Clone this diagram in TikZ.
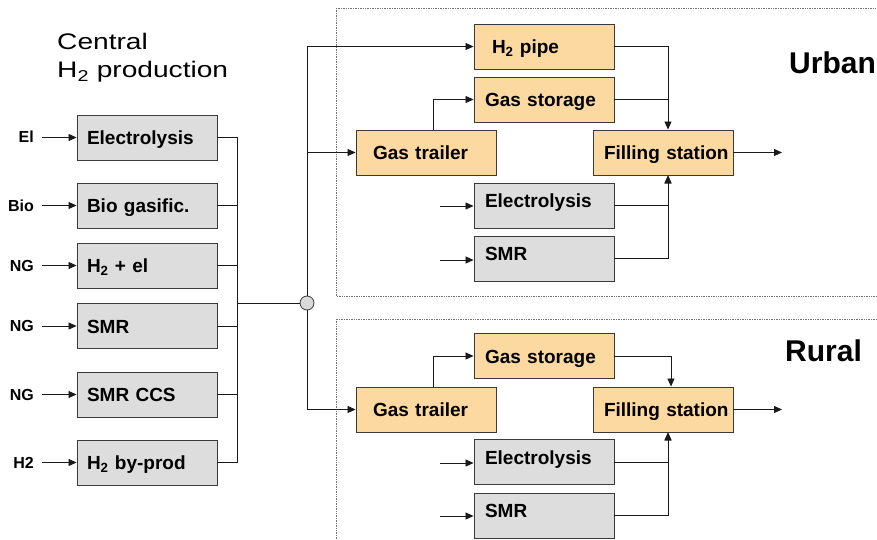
\documentclass[tikz,border=0pt]{standalone}
\usepackage{fontspec}
\setmainfont{Liberation Sans}
\newfontfamily\titlefont[FakeStretch=1.25]{Liberation Sans}
\usetikzlibrary{arrows.meta}
\definecolor{boxorange}{HTML}{FCD9A0}
\definecolor{boxgray}{HTML}{DDDDDD}
\definecolor{boxline}{HTML}{3A3A3A}
\definecolor{conn}{HTML}{1A1A1A}
\begin{document}
\begin{tikzpicture}[x=1pt,y=-1pt,
  base/.style={draw=boxline, line width=0.9pt, minimum width=140, minimum height=45,
    inner sep=0pt, text width=140, align=left, text height=14, text depth=0,
    font=\fontsize{19}{22}\selectfont\bfseries},
  gbox/.style={base, fill=boxgray},
  obox/.style={base, fill=boxorange},
  inlbl/.style={anchor=east, inner xsep=8pt, inner ysep=0pt, text height=11, text depth=0,
    font=\fontsize{16}{18}\selectfont\bfseries},
  region/.style={font=\fontsize{30}{34}\selectfont\bfseries, inner sep=0pt, anchor=base west},
  ttl/.style={font=\titlefont\fontsize{22.5}{28}\selectfont, inner sep=0pt, anchor=base west},
  ln/.style={draw=conn, line width=0.8pt},
  arr/.style={ln, -{Triangle[length=8pt,width=7pt]}},
  frame/.style={draw=black!55, densely dotted, line width=0.7pt},
  hubst/.style={circle, draw=boxline, fill=black!15, line width=0.8pt, minimum size=14, inner sep=0pt}
]
\useasboundingbox (0,0) rectangle (877,540);
\clip (0,0) rectangle (877,540);

% dotted regions
\draw[frame] (336,8) rectangle (900,296);
\draw[frame] (336,319) rectangle (900,560);

% title
\node[ttl] (t1) at (57,50) {Central};
\node[ttl] (t2) at (57,78) {H\textsubscript{2} production};

% region labels
\node[region] (urban) at (789,74) {Urban};
\node[region] (rural) at (785,361) {Rural};

% left column
\node[gbox] (elec) at (147,137.5) {\hspace*{10pt}Electrolysis};
\node[gbox] (bio)  at (147,205.5) {\hspace*{10pt}Bio gasific.};
\node[gbox] (h2el) at (147,265.5) {\hspace*{10pt}H\textsubscript{2} + el};
\node[gbox] (smr)  at (147,326)   {\hspace*{10pt}SMR};
\node[gbox] (ccs)  at (147,394.5) {\hspace*{10pt}SMR CCS};
\node[gbox] (byp)  at (147,462.5) {\hspace*{10pt}H\textsubscript{2} by-prod};

\node[inlbl] (iEl)  at (42,137.5) {El};
\node[inlbl] (iBio) at (42,205.5) {Bio};
\node[inlbl] (iNG1) at (42,265.5) {NG};
\node[inlbl] (iNG2) at (42,326)   {NG};
\node[inlbl] (iNG3) at (42,394.5) {NG};
\node[inlbl] (iH2)  at (42,462.5) {H2};

\draw[arr] (iEl.east) -- (elec.west);
\draw[arr] (iBio.east) -- (bio.west);
\draw[arr] (iNG1.east) -- (h2el.west);
\draw[arr] (iNG2.east) -- (smr.west);
\draw[arr] (iNG3.east) -- (ccs.west);
\draw[arr] (iH2.east) -- (byp.west);

% bus
\coordinate (busT) at (237,137.5);
\coordinate (busB) at (237,462.5);
\coordinate (busM) at (237,303);
\node[hubst] (hub) at (307,303) {};
\draw[ln] (busT) -- (busB);
\draw[ln] (elec.east) -- (busT);
\draw[ln] (bio.east) -- (bio.east -| busT);
\draw[ln] (h2el.east) -- (h2el.east -| busT);
\draw[ln] (smr.east) -- (smr.east -| busT);
\draw[ln] (ccs.east) -- (ccs.east -| busT);
\draw[ln] (byp.east) -- (busB);
\draw[ln] (busM) -- (hub.west);

% urban
\node[obox] (pipe) at (544,46.5)  {\hspace*{18pt}H\textsubscript{2} pipe};
\node[obox] (gsU)  at (544,99.5)  {\hspace*{11pt}Gas storage};
\node[obox] (gtU)  at (426,152.5) {\hspace*{17pt}Gas trailer};
\node[obox] (fsU)  at (663,152.5) {\hspace*{11pt}Filling station};
\node[gbox] (elU)  at (544,205.5) {\hspace*{11pt}\raisebox{5pt}{Electrolysis}};
\node[gbox] (smrU) at (544,258.5) {\hspace*{11pt}\raisebox{5pt}{SMR}};

% rural
\node[obox] (gsR)  at (544,356)   {\hspace*{11pt}Gas storage};
\node[obox] (gtR)  at (426,409.5) {\hspace*{17pt}Gas trailer};
\node[obox] (fsR)  at (663,409.5) {\hspace*{11pt}Filling station};
\node[gbox] (elR)  at (544,462)   {\hspace*{11pt}\raisebox{5pt}{Electrolysis}};
\node[gbox] (smrR) at (544,515.5) {\hspace*{11pt}\raisebox{5pt}{SMR}};

% distribution from hub
\draw[arr] (hub.north) |- (pipe.west);
\draw[arr] (hub.north) |- (gtU.west);
\draw[arr] (hub.south) |- (gtR.west);

% urban connections
\coordinate (fsUin) at ([xshift=5pt]fsU.north);
\draw[arr] ([xshift=7pt]gtU.north) |- (gsU.west);
\draw[arr] (pipe.east) -| (fsUin);
\draw[ln] (gsU.east) -- (gsU.east -| fsUin);
\draw[arr] (elU.east) -| ([xshift=5pt]fsU.south);
\draw[arr] (smrU.east) -| ([xshift=5pt]fsU.south);
\coordinate (inElU) at (440,206);
\coordinate (inSmrU) at (440,260);
\draw[arr] (inElU) -- (inElU -| elU.west);
\draw[arr] (inSmrU) -- (inSmrU -| smrU.west);
\coordinate (outU) at (782,152.5);
\draw[arr] (fsU.east) -- (outU);

% rural connections
\draw[arr] ([xshift=7pt]gtR.north) |- (gsR.west);
\draw[arr] (gsR.east) -| ([xshift=8pt]fsR.north);
\draw[arr] (elR.east) -| ([xshift=5pt]fsR.south);
\draw[arr] (smrR.east) -| ([xshift=5pt]fsR.south);
\coordinate (inElR) at (440,463);
\coordinate (inSmrR) at (440,516);
\draw[arr] (inElR) -- (inElR -| elR.west);
\draw[arr] (inSmrR) -- (inSmrR -| smrR.west);
\coordinate (outR) at (782,409.5);
\draw[arr] (fsR.east) -- (outR);
\end{tikzpicture}
\end{document}
